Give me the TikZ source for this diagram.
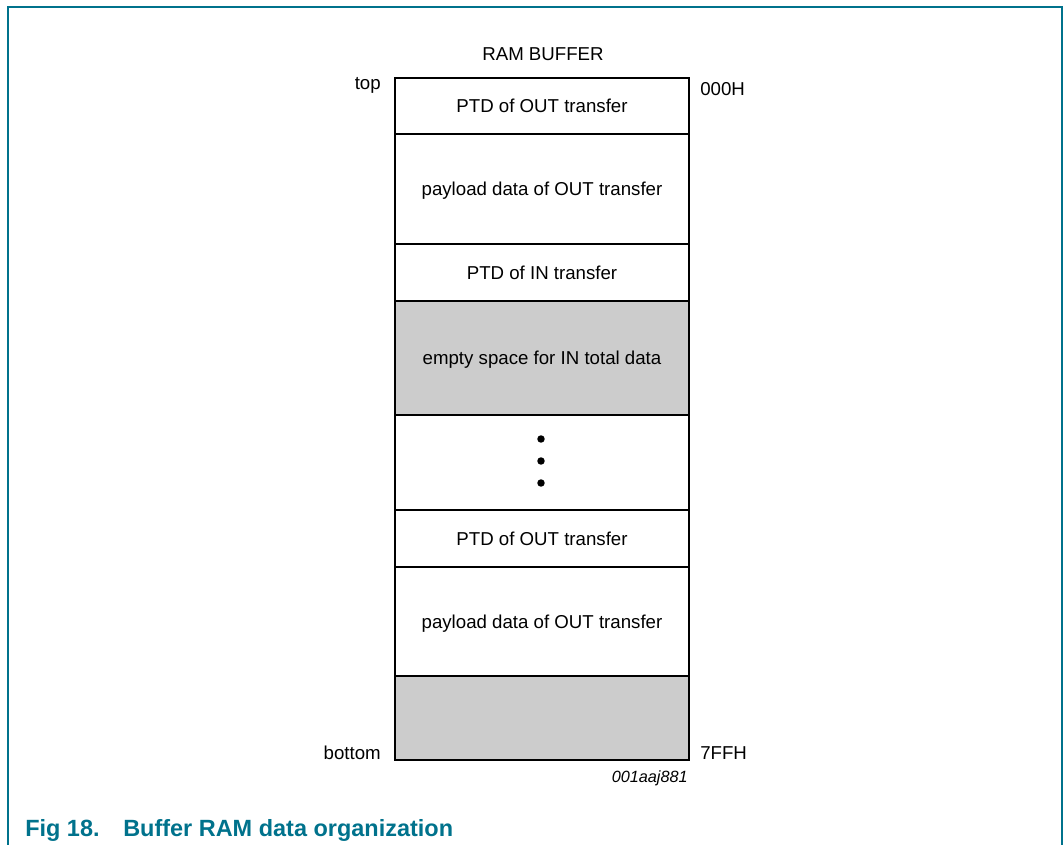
\documentclass[tikz,border=0pt]{standalone}
\usepackage{fontspec}
\setmainfont{Liberation Sans}
\definecolor{nxpteal}{RGB}{0,114,140}
\definecolor{slotgrey}{RGB}{204,204,204}
\begin{document}
\begin{tikzpicture}[x=0.75pt,y=-0.75pt,
  txt/.style={font=\fontsize{14}{16.8}\selectfont, inner sep=0pt},
  cell/.style={draw=black, line width=1.1pt, minimum width=220.5pt, anchor=north,
    inner sep=0pt, outer sep=0pt, font=\fontsize{14}{16.8}\selectfont, text height=10pt, text depth=0pt},
  empty/.style={cell, fill=slotgrey},
  dot/.style={circle, fill=black, inner sep=0pt, minimum size=5.6pt}]
  % page area and frame
  \useasboundingbox (0,0) rectangle (1064,845);
  \draw[nxpteal, line width=1.3pt] (8,845) -- (8,7) -- (1062,7) -- (1062,845);

  % buffer slots, top to bottom
  \node[cell, minimum height=42pt]   (r1) at (542,78) {PTD of OUT transfer};
  \node[cell, minimum height=82.5pt] (r2) at (r1.south) {payload data of OUT transfer};
  \node[cell, minimum height=42.75pt] (r3) at (r2.south) {PTD of IN transfer};
  \node[empty, minimum height=85.5pt] (r4) at (r3.south) {empty space for IN total data};
  \node[cell, minimum height=71.25pt] (r5) at (r4.south) {};
  \node[cell, minimum height=42.75pt] (r6) at (r5.south) {PTD of OUT transfer};
  \node[cell, minimum height=81.75pt] (r7) at (r6.south) {payload data of OUT transfer};
  \node[empty, minimum height=63pt]  (r8) at (r7.south) {};

  % continuation dots
  \node[dot] (d1) at (541,439) {};
  \node[dot] (d2) at (541,461) {};
  \node[dot] (d3) at (541,483) {};

  % labels
  \node[txt, anchor=base] (title) at (543,61) {RAM BUFFER};
  \node[txt, anchor=base east] (ltop) at (381,90) {top};
  \node[txt, anchor=base west] (a0) at (700,96) {000H};
  \node[txt, anchor=base east] (lbot) at (381,759) {bottom};
  \node[txt, anchor=base west] (a1) at (700,759) {7FFH};
  \node[inner sep=0pt, anchor=base east, font=\fontsize{12.2}{14}\selectfont\itshape] (code) at (688,782) {001aaj881};

  % caption
  \node[inner sep=0pt, anchor=base west, text=nxpteal, font=\fontsize{17.6}{21}\selectfont\bfseries] (fig) at (25,836) {Fig 18.};
  \node[inner sep=0pt, anchor=base west, text=nxpteal, font=\fontsize{17.6}{21}\selectfont\bfseries] (cap) at (123,836) {Buffer RAM data organization};
\end{tikzpicture}
\end{document}
